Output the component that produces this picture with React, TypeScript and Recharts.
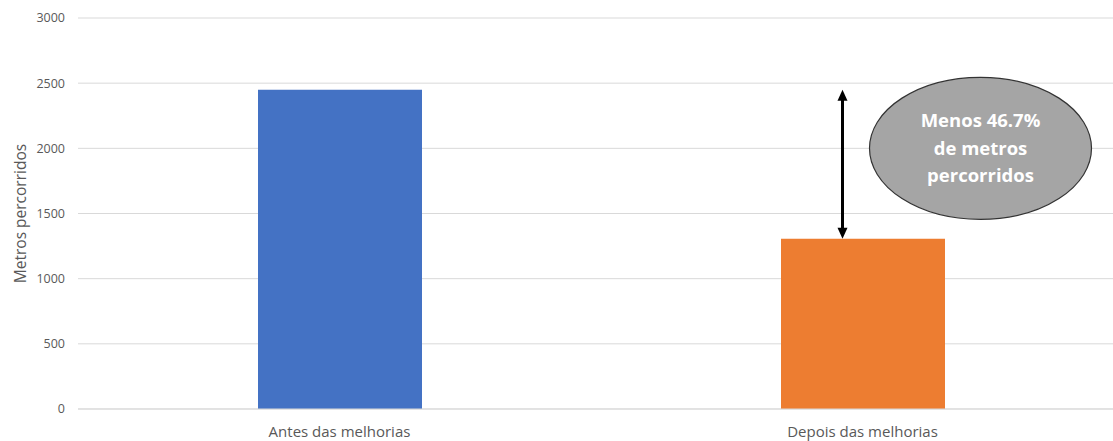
import React from 'react';
import { BarChart, Bar, XAxis, YAxis, CartesianGrid, Cell, ReferenceLine, ReferenceDot } from 'recharts';

// Categories and values
const categories = ['Antes das melhorias', 'Depois das melhorias'];
const metros = [2450, 1306];
const barColors = ['#4472C4', '#ED7D31'];
const yTicks = [0, 500, 1000, 1500, 2000, 2500, 3000];
const yLabel = 'Metros percorridos';
const calloutLines = ['Menos 46.7%', 'de metros', 'percorridos'];

const data = categories.map((name, i) => ({ name, metros: metros[i] }));

const FONT = '"Open Sans", sans-serif';
const TEXT = '#595959';

// Double-headed arrow between the two bar tops, nudged left of the second bar's centre
const ArrowShape = (props: any) => {
  const { x1, y1, x2, y2 } = props;
  if (x1 == null || y1 == null) return null;
  const x = x1 - 20;
  const top = Math.min(y1, y2);
  const bottom = Math.max(y1, y2);
  const head = 11;
  const half = 5;
  return (
    <g>
      <line x1={x} y1={top + head - 1} x2={x} y2={bottom - head + 1} stroke="#000" strokeWidth={3} />
      <polygon points={`${x},${top} ${x - half},${top + head} ${x + half},${top + head}`} fill="#000" />
      <polygon points={`${x},${bottom} ${x - half},${bottom - head} ${x + half},${bottom - head}`} fill="#000" />
    </g>
  );
};

// Grey ellipse callout with the reduction text
const CalloutShape = (props: any) => {
  const { cx, cy } = props;
  if (cx == null || cy == null) return null;
  const ex = cx + 118;
  const ey = cy;
  return (
    <g>
      <ellipse cx={ex} cy={ey} rx={111} ry={71} fill="#A5A5A5" stroke="#333333" strokeWidth={1.2} />
      {calloutLines.map((t, i) => (
        <text
          key={t}
          x={ex}
          y={ey + (i - 1) * 27.5}
          dy="0.35em"
          textAnchor="middle"
          fill="#FFFFFF"
          fontFamily={FONT}
          fontWeight={700}
          fontSize={18.5}
        >
          {t}
        </text>
      ))}
    </g>
  );
};

const YTitle = (props: any) => {
  const vb = props.viewBox || {};
  const x = (vb.x ?? 0) + 20;
  const y = (vb.y ?? 0) + (vb.height ?? 0) / 2;
  return (
    <text
      x={x}
      y={y}
      transform={`rotate(-90, ${x}, ${y})`}
      textAnchor="middle"
      dominantBaseline="central"
      fill={TEXT}
      fontFamily={FONT}
      fontSize={15.5}
    >
      {yLabel}
    </text>
  );
};

export default function App() {
  return (
    <div style={{ position: 'fixed', left: 0, top: 0, width: 1113, height: 441, overflow: 'hidden', background: '#fff' }}>
      <BarChart width={1130} height={441} data={data} margin={{ top: 18, right: 6, bottom: 0, left: 0 }}>
        <CartesianGrid vertical={false} stroke="#D9D9D9" strokeWidth={1} />
        <XAxis
          dataKey="name"
          height={32}
          axisLine={{ stroke: '#D9D9D9' }}
          tickLine={false}
          tickMargin={11}
          tick={{ fill: TEXT, fontFamily: FONT, fontSize: 15 }}
        />
        <YAxis
          width={78}
          domain={[0, 3000]}
          ticks={yTicks}
          interval={0}
          axisLine={false}
          tickLine={false}
          tickMargin={7}
          tick={{ fill: TEXT, fontFamily: FONT, fontSize: 12.5 }}
          label={<YTitle />}
        />
        <Bar dataKey="metros" barSize={164} isAnimationActive={false}>
          {data.map((d, i) => (
            <Cell key={d.name} fill={barColors[i]} />
          ))}
        </Bar>
        <ReferenceLine
          segment={[
            { x: categories[1], y: metros[0] },
            { x: categories[1], y: metros[1] },
          ]}
          shape={ArrowShape}
          ifOverflow="visible"
        />
        <ReferenceDot x={categories[1]} y={2000} shape={CalloutShape} ifOverflow="visible" />
      </BarChart>
    </div>
  );
}
